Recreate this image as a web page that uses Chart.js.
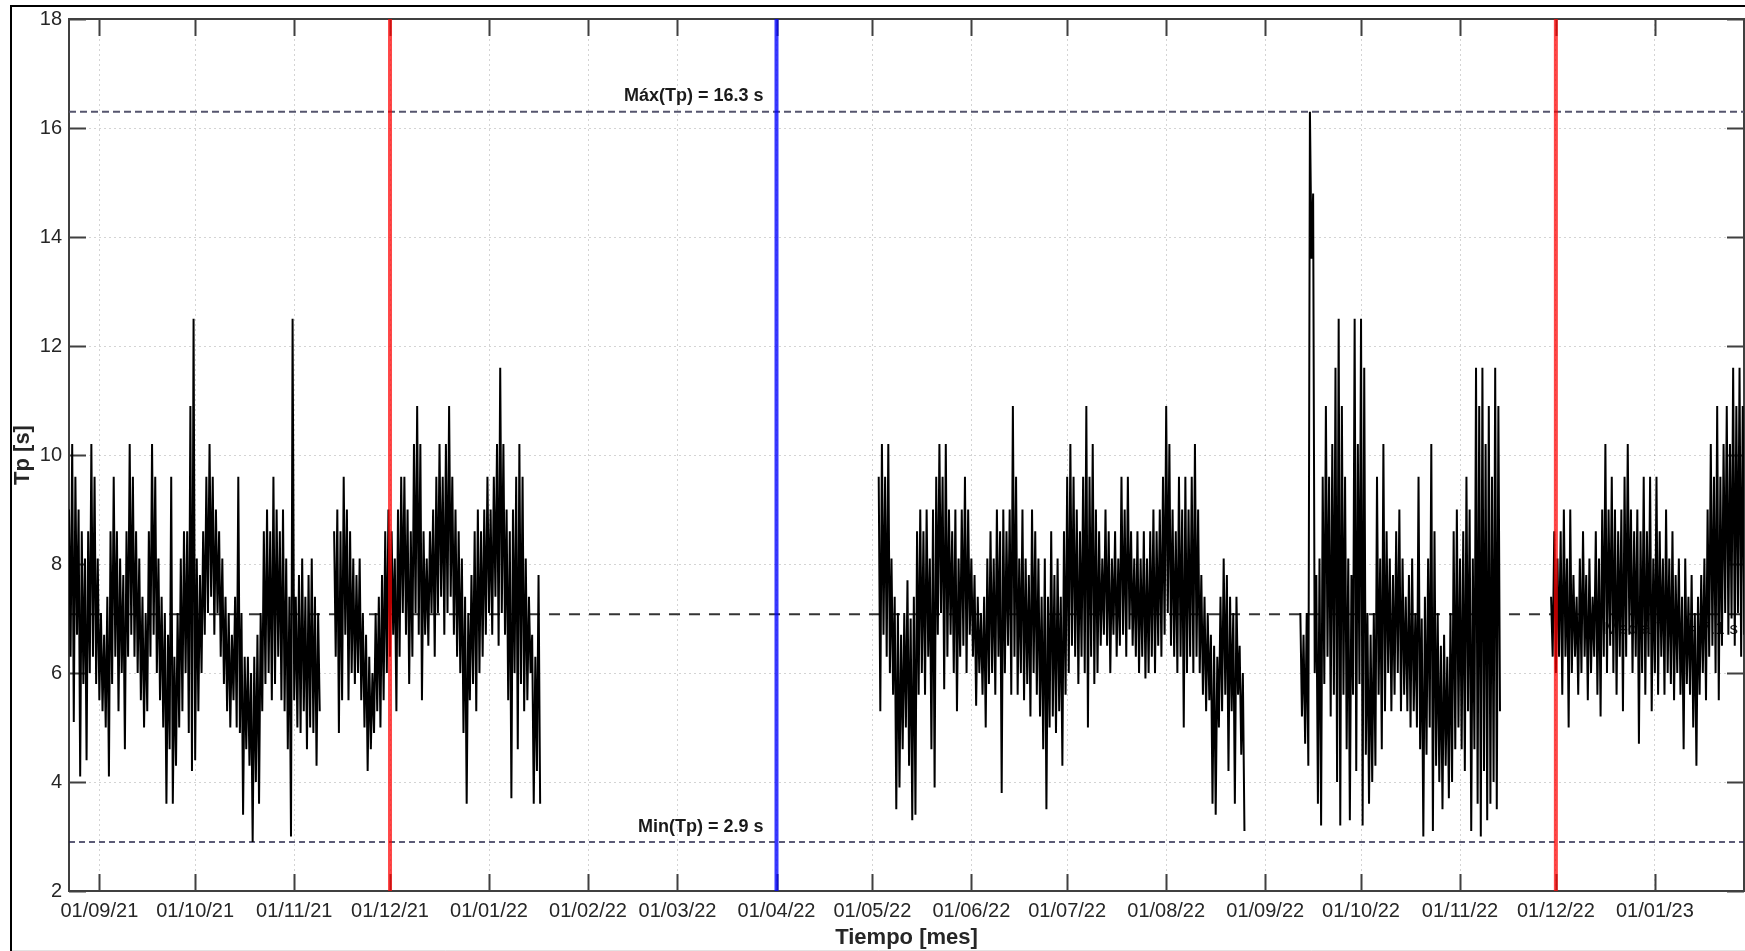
<!DOCTYPE html>
<html>
<head>
<meta charset="utf-8">
<script src="https://cdn.jsdelivr.net/npm/chart.js"></script>
<style>
  html, body { margin: 0; padding: 0; background: #fff; overflow: hidden; }
  canvas { display: block; }
</style>
</head>
<body>
<canvas id="c" width="1745" height="951"></canvas>
<script>
// ---------------- DATA ----------------
const tickDates = ['2021-09-01','2021-10-01','2021-11-01','2021-12-01','2022-01-01','2022-02-01','2022-03-01','2022-04-01','2022-05-01','2022-06-01','2022-07-01','2022-08-01','2022-09-01','2022-10-01','2022-11-01','2022-12-01','2023-01-01'];
const tickLabels = ['01/09/21','01/10/21','01/11/21','01/12/21','01/01/22','01/02/22','01/03/22','01/04/22','01/05/22','01/06/22','01/07/22','01/08/22','01/09/22','01/10/22','01/11/22','01/12/22','01/01/23'];
const yTickValues = [2, 4, 6, 8, 10, 12, 14, 16, 18];

const xStart = '2021-08-22T12:00:00Z';
const xEnd = '2023-01-28T21:30:00Z';

const maxTp = 16.3;
const minTp = 2.9;
const meanTp = 7.08;
const redDates = ['2021-12-01', '2022-12-01'];
const blueDate = '2022-04-01';

// daily high / low of Tp (s), one pair per day
const segAStart = '2021-08-22T12:00:00Z';
const segAHigh = [9.0,10.2,9.6,9.0,8.6,8.1,8.6,10.2,9.6, 8.1,7.1,6.7,7.4,8.6,9.6,8.6,8.1,7.8,8.6, 10.2,9.6,8.6,8.1,7.4,7.1,8.6,10.2,9.6,8.1, 7.4,7.1,6.7,9.6,6.3,7.1,8.1,8.6,8.6,10.9, 12.5,8.1,7.8,8.6,9.6,10.2,9.6,9.0,8.6,8.1, 7.4,7.1,6.7,7.4,9.6,7.1,6.3,6.3,6.0,6.3, 6.7,7.1,8.6,9.0,8.6,9.6,9.0,8.6,9.0,8.1, 7.4,12.5,7.4,7.8,8.1,7.4,7.8,8.1,7.4,7.1];
const segALow  = [6.3,5.1,6.7,4.1,5.8,4.4,6.0,6.3,5.8, 5.5,5.3,5.0,4.1,5.8,6.3,5.3,6.0,4.6,6.3, 6.7,6.3,6.0,5.5,5.0,5.3,6.3,6.7,6.0,5.5, 5.0,3.6,4.6,3.6,4.3,5.0,5.3,6.0,4.9,4.2, 4.4,5.3,6.0,6.7,7.1,7.4,6.7,7.1,6.3,5.8, 5.3,5.0,5.5,5.0,4.9,3.4,4.6,4.3,2.9,4.0, 3.6,5.3,5.8,6.0,5.5,5.8,6.3,5.5,5.3,4.6, 3.0,5.5,5.0,4.9,5.3,4.6,5.0,4.9,4.3,5.3];

const segBStart = '2021-11-13T12:00:00Z';
const segBHigh = [8.6,9.0,8.6,9.6,9.0,8.6,8.1,7.8,8.1,7.1, 6.7,6.3,6.0,7.1,7.4,7.8,8.6,9.0,8.6,8.1, 9.0,9.6,9.6,9.0,8.6,10.2,10.9,10.2,8.6,8.1, 8.6,9.0,9.6,10.2,9.6,10.2,10.9,9.6,9.0,8.6, 8.1,7.4,7.1,7.8,8.6,9.0,8.6,9.0,9.6,9.0, 9.6,10.2,11.6,10.2,9.0,8.6,9.0,9.6,10.2,9.6, 8.1,7.4,6.7,6.3,7.8];
const segBLow  = [6.3,4.9,5.5,6.7,5.5,6.0,5.8,6.0,5.5,5.0, 4.2,4.6,4.9,5.3,5.0,5.5,6.0,6.3,6.7,5.3, 6.3,7.1,6.7,5.8,6.3,7.1,6.7,5.5,6.7,6.5, 7.1,6.3,7.1,7.4,6.7,7.1,7.4,6.7,6.3,6.0, 4.9,3.6,5.5,5.8,5.3,6.0,6.3,6.7,7.1,6.7, 7.4,6.5,7.1,6.7,5.5,3.7,6.0,4.6,5.8,5.3, 5.5,6.0,3.6,4.2,3.6];

const segCStart = '2022-05-03T00:00:00Z';
const segCHigh = [9.6,10.2,9.6,10.2,8.1,7.4,7.1,6.7,7.1,7.7, 7.0,7.4,8.6,9.0,8.6,9.0,8.1,9.0,9.6,10.2, 9.6,10.2,9.0,8.6,9.0,8.1,9.0,9.6,9.0,8.1, 7.8,7.4,7.1,7.4,8.1,8.6,8.1,9.0,8.6,9.0, 8.6,9.0,10.9,9.6,8.1,9.0,8.1,7.8,9.0,8.6, 8.1,7.4,8.1,7.4,8.6,7.8,8.1,7.4,8.6,9.6, 10.2,9.6,9.0,8.6,9.6,10.9,9.6,10.2,9.0,8.6, 8.1,9.0,8.6,8.1,8.6,8.1,9.6,9.0,9.6,8.6, 8.1,8.6,8.1,8.6,8.1,8.6,9.0,8.6,9.0,9.6, 10.9,10.2,9.0,8.6,9.6,9.0,9.6,9.0,9.6,10.2, 9.0,7.8,7.4,7.1,6.7,6.5,6.3,7.4,8.1,7.8, 7.4,7.1,7.4,6.5,6.0];
const segCLow  = [5.3,6.7,6.3,6.0,5.6,3.5,3.9,4.6,5.0,4.3, 3.3,3.4,5.6,6.0,5.6,6.3,4.6,3.9,6.7,7.1, 5.7,6.3,6.7,6.0,5.3,6.3,6.5,6.0,6.7,6.3, 5.4,6.0,5.6,5.0,5.8,6.0,5.6,6.3,3.8,6.0, 6.5,5.6,6.3,5.6,6.0,5.5,5.8,5.2,6.0,5.6, 5.2,4.6,3.5,5.0,5.2,4.9,5.3,4.3,5.6,6.0, 6.5,6.3,5.8,6.3,6.0,5.0,6.3,5.8,6.0,6.5, 6.7,6.5,6.0,6.7,6.3,6.5,6.7,6.3,6.8,6.5, 6.3,6.0,6.3,5.9,6.0,6.3,6.0,6.5,6.3,6.7, 7.1,6.5,6.3,6.0,6.3,5.0,6.0,6.3,6.0,6.3, 6.0,5.6,5.3,5.5,3.6,3.4,5.0,5.3,5.6,4.2, 5.3,3.6,5.6,4.5,3.1];

const segDStart = '2022-09-12T00:00:00Z';
const segDHigh = [7.1,6.7,7.1,16.3,14.8,7.8,8.1,9.6,10.9,9.6, 10.2,11.6,12.5,10.9,9.6,8.1,7.8,12.5,10.2,12.5, 11.6,7.1,6.7,7.1,9.6,8.1,10.2,8.6,8.1,7.8, 8.6,9.0,8.1,7.4,7.8,8.1,7.1,9.6,7.0,7.4, 8.1,10.2,8.6,7.1,6.5,6.7,6.3,7.1,8.6,9.0, 8.1,8.6,9.6,9.0,8.1,11.6,10.9,11.6,10.2,10.9, 9.6,11.6,10.9];
const segDLow  = [5.2,4.7,4.3,13.6,6.0,3.6,3.2,5.8,6.3,5.2, 5.6,4.0,3.2,5.6,4.6,3.3,5.6,4.2,5.8,3.2, 4.5,3.6,4.0,4.3,5.6,4.6,5.3,6.0,5.3,5.6, 6.0,5.3,5.6,5.3,5.0,5.3,5.0,4.6,3.0,4.5, 5.0,3.1,4.3,4.0,3.5,4.3,3.7,4.0,4.6,5.0, 4.6,4.2,5.3,3.1,4.6,3.6,3.0,4.2,3.3,3.6, 4.0,3.5,5.3];

const segEStart = '2022-11-29T12:00:00Z';
const segEHigh = [7.4,8.6,8.1,8.6,9.0,8.1,9.0,7.8,7.4,8.1, 8.6,7.8,8.1,7.4,8.6,8.1,9.0,10.2,9.0,9.6, 9.0,8.6,9.0,9.6,10.2,9.0,8.6,9.0,8.6,9.6, 8.6,9.6,8.1,9.6,8.6,8.1,9.0,8.1,8.6,7.8, 8.1,7.4,8.1,7.4,7.8,7.1,7.4,7.8,8.1,9.0, 10.2,9.6,10.9,9.6,10.2,10.9,10.2,11.6,10.9,11.6, 10.9];
const segELow  = [6.3,6.0,6.3,5.6,6.3,5.0,6.0,6.3,5.6,6.0, 6.3,5.5,6.0,6.3,5.6,5.2,6.3,6.0,6.5,6.0, 5.6,6.3,5.3,6.3,6.7,6.0,6.3,4.7,6.0,5.6, 6.3,5.3,6.0,5.6,6.3,5.6,6.0,5.8,5.5,6.0, 5.6,4.6,5.8,5.6,5.0,4.3,5.6,6.0,5.5,6.3, 6.5,6.0,5.5,6.5,7.1,6.7,7.0,6.5,7.1,6.3, 6.7];

// ---------------- BUILD ----------------
const DAY = 86400000;
const T = s => Date.parse(s);

function segment(start, hi, lo) {
  const t0 = T(start);
  const pts = [];
  for (let i = 0; i < hi.length; i++) {
    pts.push({ x: t0 + i * DAY, y: hi[i] });
    pts.push({ x: t0 + i * DAY + DAY / 2, y: lo[i] });
  }
  return pts;
}
function withGap(pts) {
  const last = pts[pts.length - 1].x;
  return pts.concat([{ x: last + DAY, y: null }]);
}
const series = [].concat(
  withGap(segment(segAStart, segAHigh, segALow)),
  withGap(segment(segBStart, segBHigh, segBLow)),
  withGap(segment(segCStart, segCHigh, segCLow)),
  withGap(segment(segDStart, segDHigh, segDLow)),
  segment(segEStart, segEHigh, segELow)
);

const xMin = T(xStart), xMax = T(xEnd);
const tickVals = tickDates.map(T);

const FONT = "'Liberation Sans', Arial, Helvetica, sans-serif";

function hLine(v) { return [{ x: xMin, y: v }, { x: xMax, y: v }]; }
function vLine(d) { return [{ x: T(d), y: 2 }, { x: T(d), y: 18 }]; }

const datasets = [
  { data: series, borderColor: '#000', borderWidth: 2, pointRadius: 0, tension: 0, spanGaps: false, order: 1, borderJoinStyle: 'miter' },
  { data: hLine(meanTp), borderColor: '#333', borderWidth: 2, borderDash: [11, 9], pointRadius: 0, order: 3 },
  { data: hLine(maxTp), borderColor: '#55556e', borderWidth: 2, borderDash: [7, 4], pointRadius: 0, order: 2 },
  { data: hLine(minTp), borderColor: '#26264a', borderWidth: 1.5, borderDash: [6, 4], pointRadius: 0, order: 2 },
  { data: vLine(redDates[0]), borderColor: 'rgba(255,0,0,0.72)', borderWidth: 4, pointRadius: 0, order: 0 },
  { data: vLine(redDates[1]), borderColor: 'rgba(255,0,0,0.72)', borderWidth: 4, pointRadius: 0, order: 0 },
  { data: vLine(blueDate), borderColor: 'rgba(0,0,255,0.78)', borderWidth: 4, pointRadius: 0, order: 0 }
];

const framePlugin = {
  id: 'frame',
  beforeDraw(chart) {
    const ctx = chart.ctx;
    ctx.save();
    ctx.fillStyle = '#fff';
    ctx.fillRect(0, 0, chart.width, chart.height);
    ctx.strokeStyle = '#000';
    ctx.lineWidth = 2;
    ctx.beginPath();
    ctx.moveTo(11, 951); ctx.lineTo(11, 6); ctx.lineTo(1745, 6);
    ctx.stroke();
    ctx.strokeStyle = '#e2e2e2';
    ctx.lineWidth = 1;
    ctx.beginPath();
    ctx.moveTo(12, 950.5); ctx.lineTo(1745, 950.5);
    ctx.stroke();
    ctx.restore();
  },
  beforeDatasetsDraw(chart) {
    const ctx = chart.ctx;
    const { left, right, top, bottom } = chart.chartArea;
    const xs = chart.scales.x, ys = chart.scales.y;
    ctx.save();
    // mean label (hidden behind data)
    ctx.font = "17px " + FONT;
    ctx.fillStyle = '#222';
    ctx.textAlign = 'right';
    ctx.textBaseline = 'middle';
    ctx.fillText('Media(Tp) = ' + meanTp.toFixed(1) + ' s', right - 6, ys.getPixelForValue(meanTp) + 15);
    // box
    ctx.strokeStyle = '#404040';
    ctx.lineWidth = 2;
    ctx.strokeRect(left, top, right - left, bottom - top);
    // inner tick marks
    const TL = 17;
    ctx.lineWidth = 2;
    ctx.beginPath();
    tickVals.forEach(v => {
      const px = Math.round(xs.getPixelForValue(v)) + 0.5;
      ctx.moveTo(px, bottom); ctx.lineTo(px, bottom - TL);
      ctx.moveTo(px, top); ctx.lineTo(px, top + TL);
    });
    yTickValues.forEach(v => {
      const py = Math.round(ys.getPixelForValue(v)) + 0.5;
      ctx.moveTo(left, py); ctx.lineTo(left + TL, py);
      ctx.moveTo(right, py); ctx.lineTo(right - TL, py);
    });
    ctx.stroke();
    ctx.restore();
  },
  afterDatasetsDraw(chart) {
    const ctx = chart.ctx;
    const xs = chart.scales.x, ys = chart.scales.y;
    const bx = xs.getPixelForValue(T(blueDate)) - 13;
    ctx.save();
    ctx.font = "bold 18px " + FONT;
    ctx.fillStyle = '#1a1a1a';
    ctx.textAlign = 'right';
    ctx.textBaseline = 'middle';
    ctx.fillText('Máx(Tp) = ' + maxTp.toFixed(1) + ' s', bx, ys.getPixelForValue(maxTp) - 16);
    ctx.fillText('Min(Tp) = ' + minTp.toFixed(1) + ' s', bx, ys.getPixelForValue(minTp) - 15);
    ctx.restore();
  }
};

new Chart(document.getElementById('c'), {
  type: 'line',
  data: { datasets },
  plugins: [framePlugin],
  options: {
    responsive: false,
    devicePixelRatio: 1,
    animation: false,
    events: [],
    layout: { padding: { left: 0, right: 1, top: 15, bottom: 0 } },
    plugins: { legend: { display: false }, tooltip: { enabled: false } },
    elements: { line: { tension: 0 }, point: { radius: 0 } },
    scales: {
      x: {
        type: 'linear',
        min: xMin,
        max: xMax,
        afterBuildTicks: s => { s.ticks = tickVals.map(v => ({ value: v })); },
        afterFit: s => { s.height = 60; },
        ticks: {
          autoSkip: false, maxRotation: 0, minRotation: 0, padding: 8,
          color: '#262626', font: { family: FONT, size: 20 },
          callback: v => tickLabels[tickVals.indexOf(v)]
        },
        grid: { color: 'rgba(0,0,0,0.17)', lineWidth: 1, drawTicks: false },
        border: { display: false, dash: [2, 3] },
        title: { display: true, text: 'Tiempo [mes]', color: '#262626', font: { family: FONT, size: 22, weight: 'bold' }, padding: { top: 0, bottom: 0 } }
      },
      y: {
        type: 'linear',
        min: 2,
        max: 18,
        afterBuildTicks: s => { s.ticks = yTickValues.map(v => ({ value: v })); },
        afterFit: s => { s.width = 69; },
        ticks: {
          padding: 7, color: '#262626', font: { family: FONT, size: 20 },
          callback: v => String(v)
        },
        grid: { color: 'rgba(0,0,0,0.17)', lineWidth: 1, drawTicks: false },
        border: { display: false, dash: [2, 3] },
        title: { display: true, text: 'Tp [s]', color: '#262626', font: { family: FONT, size: 22, weight: 'bold' }, padding: { top: 10, bottom: 0 } }
      }
    }
  }
});
</script>
</body>
</html>
